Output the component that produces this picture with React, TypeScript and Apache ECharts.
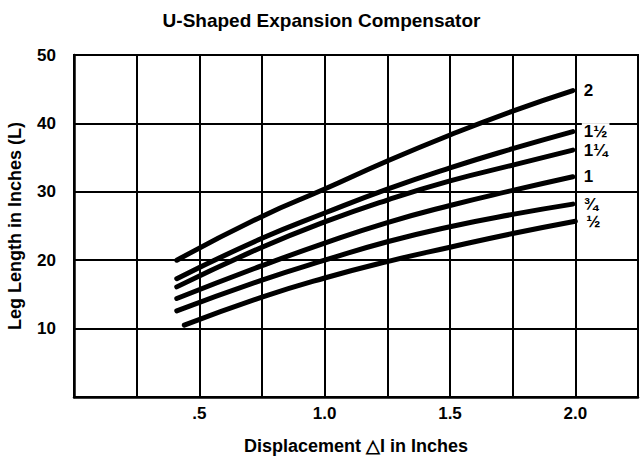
import React, { useEffect, useRef } from "react";
import * as echarts from "echarts";

const titleText = "U-Shaped Expansion Compensator";
const xAxisName = "Displacement \u25B3I in Inches";
const yAxisName = "Leg Length in Inches (L)";

const xTickLabels: Record<string, string> = { "0.5": ".5", "1": "1.0", "1.5": "1.5", "2": "2.0" };
const yTickLabels = [10, 20, 30, 40, 50];

const seriesNames = ["2", "1\u00BD", "1\u00BC", "1", "\u00BE", "\u00BD"];

const x2 = [0.41, 0.75, 1.0, 1.25, 1.5, 1.75, 1.99];
const y2 = [20.0, 26.4, 30.4, 34.5, 38.3, 41.8, 44.8];
const x1h = [0.41, 0.75, 1.0, 1.25, 1.5, 1.75, 1.99];
const y1h = [17.3, 23.2, 26.9, 30.4, 33.5, 36.3, 38.8];
const x1q = [0.41, 0.75, 1.0, 1.25, 1.5, 1.75, 1.99];
const y1q = [16.1, 21.9, 25.6, 28.8, 31.6, 33.9, 36.1];
const x1 = [0.41, 0.75, 1.0, 1.25, 1.5, 1.75, 1.99];
const y1 = [14.4, 19.2, 22.5, 25.5, 28.0, 30.2, 32.2];
const x34 = [0.41, 0.75, 1.0, 1.25, 1.5, 1.75, 1.99];
const y34 = [12.6, 17.1, 20.0, 22.7, 24.9, 26.7, 28.2];
const x12 = [0.44, 0.75, 1.0, 1.25, 1.5, 1.75, 2.0];
const y12 = [10.5, 14.6, 17.4, 19.8, 21.9, 23.9, 25.7];

const xsList = [x2, x1h, x1q, x1, x34, x12];
const ysList = [y2, y1h, y1q, y1, y34, y12];

const FONT = "'Liberation Sans', Arial, Helvetica, sans-serif";

export default function App() {
  const ref = useRef<HTMLDivElement>(null);
  useEffect(() => {
    if (!ref.current) return;
    const chart = echarts.init(ref.current, null, { renderer: "svg" });
    const series = seriesNames.map((name, i) => ({
      name,
      type: "line",
      smooth: 0.5,
      showSymbol: false,
      symbol: "none",
      data: xsList[i].map((x, j) => [x, ysList[i][j]]),
      lineStyle: { color: "#000", width: 5, cap: "round" },
      endLabel: {
        show: true,
        formatter: "{a}",
        color: "#000",
        fontFamily: FONT,
        fontWeight: "bold",
        fontSize: 17,
        backgroundColor: "#fff",
        padding: [0, 2, 0, 2],
        distance: 9,
      },
      z: 3,
    }));
    chart.setOption({
      animation: false,
      backgroundColor: "#fff",
      title: {
        text: titleText,
        left: "center",
        top: 6,
        textStyle: { fontFamily: FONT, fontWeight: "bold", fontSize: 19, color: "#000" },
      },
      grid: {
        left: 74,
        right: 5,
        top: 55,
        bottom: 70,
        containLabel: false,
        outerBoundsMode: "none",
        show: true,
        borderColor: "#000",
        borderWidth: 2,
      },
      xAxis: {
        type: "value",
        min: 0,
        max: 2.25,
        interval: 0.25,
        name: xAxisName,
        nameLocation: "middle",
        nameGap: 40,
        nameTextStyle: { fontFamily: FONT, fontWeight: "bold", fontSize: 18, color: "#000" },
        axisLine: { show: true, lineStyle: { color: "#000", width: 2.5 } },
        axisTick: { show: false },
        axisLabel: {
          margin: 8,
          fontFamily: FONT,
          fontWeight: "bold",
          fontSize: 17,
          color: "#000",
          formatter: (v: number) => xTickLabels[String(v)] ?? "",
        },
        splitLine: { show: true, lineStyle: { color: "#000", width: 2 } },
      },
      yAxis: {
        type: "value",
        min: 0,
        max: 50,
        interval: 10,
        name: yAxisName,
        nameLocation: "middle",
        nameGap: 50,
        nameTextStyle: { fontFamily: FONT, fontWeight: "bold", fontSize: 18, color: "#000" },
        axisLine: { show: true, lineStyle: { color: "#000", width: 2.5 } },
        axisTick: { show: false },
        axisLabel: {
          margin: 18,
          fontFamily: FONT,
          fontWeight: "bold",
          fontSize: 17,
          color: "#000",
          formatter: (v: number) => (yTickLabels.includes(v) ? String(v) : ""),
        },
        splitLine: { show: true, lineStyle: { color: "#000", width: 2 } },
      },
      series,
    });
    return () => chart.dispose();
  }, []);
  return (
    <div
      ref={ref}
      style={{ position: "fixed", left: 0, top: 0, width: 643, height: 467, background: "#fff" }}
    />
  );
}
